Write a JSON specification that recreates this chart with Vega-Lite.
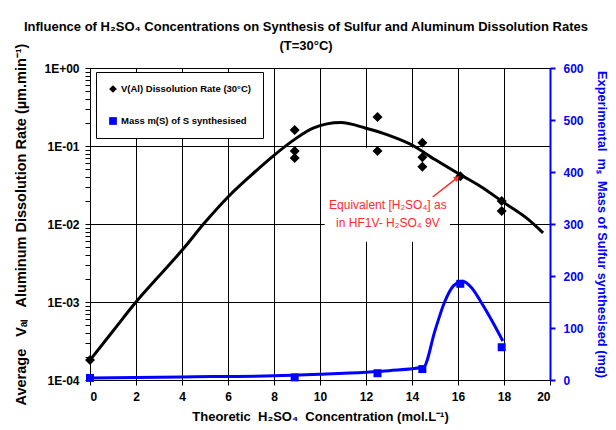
{
  "$schema": "https://vega.github.io/schema/vega-lite/v6.json",
  "width": 460,
  "height": 312,
  "autosize": {"type": "none"},
  "padding": {"left": 90, "top": 68, "right": 66, "bottom": 50},
  "background": "white",
  "config": {
    "font": "Liberation Sans",
    "view": {"stroke": "black", "strokeWidth": 1},
    "axis": {
      "labelFont": "Liberation Sans",
      "titleFont": "Liberation Sans",
      "labelFontWeight": "bold",
      "titleFontWeight": "bold",
      "labelFontSize": 12,
      "titleFontSize": 13,
      "domainColor": "black",
      "tickColor": "black",
      "labelColor": "black",
      "titleColor": "black",
      "labelOverlap": false
    }
  },
  "title": {
    "text": "Influence of H₂SO₄ Concentrations on Synthesis of Sulfur and Aluminum Dissolution Rates",
    "subtitle": "(T=30°C)",
    "font": "Liberation Sans",
    "subtitleFont": "Liberation Sans",
    "fontSize": 13,
    "fontWeight": "bold",
    "subtitleFontSize": 13,
    "subtitleFontWeight": "bold",
    "color": "black",
    "subtitleColor": "black",
    "anchor": "middle",
    "frame": "group",
    "dx": -14,
    "dy": 21,
    "offset": 11,
    "subtitlePadding": 6
  },
  "datasets": {
    "fit": [
      {"x": 0, "v": 0.00018}, {"x": 1, "v": 0.000425}, {"x": 2, "v": 0.001},
      {"x": 3, "v": 0.00215}, {"x": 4, "v": 0.0046}, {"x": 5, "v": 0.0105},
      {"x": 6, "v": 0.0222}, {"x": 7, "v": 0.042}, {"x": 8, "v": 0.076},
      {"x": 8.85, "v": 0.119}, {"x": 9.7, "v": 0.17}, {"x": 10.9, "v": 0.2},
      {"x": 12, "v": 0.169}, {"x": 13, "v": 0.137}, {"x": 14, "v": 0.103},
      {"x": 15, "v": 0.067}, {"x": 16, "v": 0.0446}, {"x": 17, "v": 0.03},
      {"x": 18, "v": 0.0188}, {"x": 19, "v": 0.0118}, {"x": 19.7, "v": 0.0077}
    ],
    "rate": [
      {"x": 0, "v": 0.00018, "series": "V(Al) Dissolution Rate (30°C)"},
      {"x": 8.9, "v": 0.16, "series": "V(Al) Dissolution Rate (30°C)"},
      {"x": 8.9, "v": 0.086, "series": "V(Al) Dissolution Rate (30°C)"},
      {"x": 8.9, "v": 0.07, "series": "V(Al) Dissolution Rate (30°C)"},
      {"x": 12.5, "v": 0.235, "series": "V(Al) Dissolution Rate (30°C)"},
      {"x": 12.5, "v": 0.086, "series": "V(Al) Dissolution Rate (30°C)"},
      {"x": 14.45, "v": 0.11, "series": "V(Al) Dissolution Rate (30°C)"},
      {"x": 14.45, "v": 0.072, "series": "V(Al) Dissolution Rate (30°C)"},
      {"x": 14.45, "v": 0.054, "series": "V(Al) Dissolution Rate (30°C)"},
      {"x": 16.1, "v": 0.041, "series": "V(Al) Dissolution Rate (30°C)"},
      {"x": 17.9, "v": 0.0197, "series": "V(Al) Dissolution Rate (30°C)"},
      {"x": 17.9, "v": 0.0147, "series": "V(Al) Dissolution Rate (30°C)"}
    ],
    "massfit": [
      {"x": 0, "m": 4}, {"x": 4, "m": 6}, {"x": 8, "m": 8}, {"x": 10, "m": 11},
      {"x": 12, "m": 15}, {"x": 13, "m": 18}, {"x": 14.5, "m": 25},
      {"x": 15.0, "m": 95}, {"x": 15.4, "m": 148}, {"x": 15.8, "m": 181},
      {"x": 16.2, "m": 190}, {"x": 16.6, "m": 177}, {"x": 17.0, "m": 150},
      {"x": 17.5, "m": 112}, {"x": 17.95, "m": 75}
    ],
    "mass": [
      {"x": 0, "m": 4, "series": "Mass m(S) of S synthesised"},
      {"x": 8.9, "m": 5, "series": "Mass m(S) of S synthesised"},
      {"x": 12.5, "m": 13, "series": "Mass m(S) of S synthesised"},
      {"x": 14.45, "m": 21, "series": "Mass m(S) of S synthesised"},
      {"x": 16.1, "m": 185, "series": "Mass m(S) of S synthesised"},
      {"x": 17.9, "m": 63, "series": "Mass m(S) of S synthesised"}
    ],
    "note": [
      {"x": 12.95, "v": 0.0175, "label": "Equivalent [H₂SO₄] as"},
      {"x": 12.95, "v": 0.0103, "label": "in HF1V- H₂SO₄ 9V"}
    ],
    "notebox": [
      {"x": 10.2, "x2": 15.65, "v": 0.0059, "v2": 0.095}
    ],
    "arrow": [
      {"x": 14.9, "v": 0.0222, "x2": 15.96, "v2": 0.039}
    ]
  },
  "layer": [
    {
      "layer": [
        {
          "data": {"name": "notebox"},
          "mark": {"type": "rect", "color": "white", "opacity": 1},
          "encoding": {
            "x": {
              "field": "x", "type": "quantitative",
              "scale": {"domain": [0, 20], "nice": false},
              "axis": {
                "values": [0,1,2,3,4,5,6,7,8,9,10,11,12,13,14,15,16,17,18,19,20],
                "labelExpr": "datum.value % 2 == 0 ? datum.label : ''",
                "grid": true,
                "gridColor": "black",
                "gridOpacity": {"condition": {"test": "datum.value % 2 == 0", "value": 1}, "value": 0},
                "tickSize": 5,
                "labelPadding": 6,
                "title": "Theoretic\u00a0\u00a0H₂SO₄\u00a0\u00a0Concentration (mol.L⁻¹)",
                "titlePadding": 8
              }
            },
            "x2": {"field": "x2"},
            "y": {
              "field": "v", "type": "quantitative",
              "scale": {"type": "log", "domain": [0.0001, 1], "nice": false},
              "axis": {
                "orient": "left",
                "values": [0.0001,0.0002,0.0003,0.0004,0.0005,0.0006,0.0007,0.0008,0.0009,0.001,0.002,0.003,0.004,0.005,0.006,0.007,0.008,0.009,0.01,0.02,0.03,0.04,0.05,0.06,0.07,0.08,0.09,0.1,0.2,0.3,0.4,0.5,0.6,0.7,0.8,0.9,1],
                "labelExpr": "abs(log(datum.value)/LN10 - round(log(datum.value)/LN10)) < 0.001 ? (round(log(datum.value)/LN10) == 0 ? '1E+00' : '1E-0' + abs(round(log(datum.value)/LN10))) : ''",
                "grid": true,
                "gridColor": "black",
                "gridOpacity": {"condition": {"test": "abs(log(datum.value)/LN10 - round(log(datum.value)/LN10)) < 0.001", "value": 1}, "value": 0},
                "tickSize": 5,
                "labelPadding": 6,
                "title": "Average\u00a0\u00a0\u00a0V\u2090\u2097\u00a0\u00a0\u00a0Aluminum Dissolution Rate (µm.min⁻¹)\u00a0\u00a0\u00a0\u00a0\u00a0\u00a0\u00a0\u00a0\u00a0\u00a0\u00a0\u00a0\u00a0\u00a0",
                "titleFontSize": 14.5,
                "titlePadding": 15
              }
            },
            "y2": {"field": "v2"}
          }
        },
        {
          "data": {"name": "fit"},
          "mark": {"type": "line", "color": "black", "strokeWidth": 3, "interpolate": "monotone"},
          "encoding": {
            "x": {"field": "x", "type": "quantitative"},
            "y": {"field": "v", "type": "quantitative"}
          }
        },
        {
          "data": {"name": "rate"},
          "mark": {"type": "point", "filled": true, "size": 100, "opacity": 1},
          "encoding": {
            "x": {"field": "x", "type": "quantitative"},
            "y": {"field": "v", "type": "quantitative"},
            "color": {
              "field": "series", "type": "nominal",
              "scale": {"domain": ["V(Al) Dissolution Rate (30°C)", "Mass m(S) of S synthesised"], "range": ["black", "blue"]},
              "legend": {
                "orient": "none", "legendX": 6, "legendY": 4, "title": null,
                "fillColor": "white", "strokeColor": "black", "padding": 12,
                "rowPadding": 22, "labelFontSize": 9.5, "labelFontWeight": "bold",
                "labelFont": "Liberation Sans", "symbolSize": 60, "labelOffset": 3,
                "encode": {"labels": {"update": {"fill": {"signal": "indexof(datum.value, 'Mass') === 0 ? 'blue' : 'black'"}}}}
              }
            },
            "shape": {
              "field": "series", "type": "nominal",
              "scale": {"domain": ["V(Al) Dissolution Rate (30°C)", "Mass m(S) of S synthesised"], "range": ["diamond", "square"]},
              "legend": {
                "orient": "none", "legendX": 6, "legendY": 4, "title": null,
                "fillColor": "white", "strokeColor": "black", "padding": 12,
                "rowPadding": 22, "labelFontSize": 9.5, "labelFontWeight": "bold",
                "labelFont": "Liberation Sans", "symbolSize": 60, "labelOffset": 3,
                "encode": {"labels": {"update": {"fill": {"signal": "indexof(datum.value, 'Mass') === 0 ? 'blue' : 'black'"}}}}
              }
            }
          }
        },
        {
          "data": {"name": "arrow"},
          "mark": {"type": "rule", "color": "#ff2a2a", "strokeWidth": 1.5},
          "encoding": {
            "x": {"field": "x", "type": "quantitative"},
            "y": {"field": "v", "type": "quantitative"},
            "x2": {"field": "x2"},
            "y2": {"field": "v2"}
          }
        },
        {
          "data": {"name": "arrow"},
          "mark": {"type": "point", "shape": "triangle-up", "filled": true, "color": "#ff2a2a", "size": 40, "angle": 52, "opacity": 1},
          "encoding": {
            "x": {"field": "x2", "type": "quantitative"},
            "y": {"field": "v2", "type": "quantitative"}
          }
        },
        {
          "data": {"name": "note"},
          "mark": {"type": "text", "color": "#ff2a2a", "fontSize": 12, "font": "Liberation Sans", "align": "center", "baseline": "middle"},
          "encoding": {
            "x": {"field": "x", "type": "quantitative"},
            "y": {"field": "v", "type": "quantitative"},
            "text": {"field": "label"}
          }
        }
      ]
    },
    {
      "layer": [
        {
          "data": {"name": "massfit"},
          "mark": {"type": "line", "color": "blue", "strokeWidth": 3, "interpolate": "monotone"},
          "encoding": {
            "x": {"field": "x", "type": "quantitative"},
            "y": {
              "field": "m", "type": "quantitative",
              "scale": {"domain": [0, 600], "nice": false},
              "axis": {
                "orient": "right",
                "values": [0,50,100,150,200,250,300,350,400,450,500,550,600],
                "labelExpr": "datum.value % 100 == 0 ? datum.label : ''",
                "grid": false,
                "domainColor": "blue",
                "domainWidth": 2,
                "tickColor": "blue",
                "tickWidth": 2,
                "tickSize": 5,
                "labelColor": "blue",
                "labelPadding": 8,
                "titleColor": "blue",
                "titleFontSize": 12.8,
                "title": "Experimental\u00a0\u00a0m\u209b\u00a0\u00a0Mass of Sulfur synthesised (mg)",
                "titlePadding": 11
              }
            }
          }
        },
        {
          "data": {"name": "mass"},
          "mark": {"type": "point", "filled": true, "size": 64, "opacity": 1},
          "encoding": {
            "x": {"field": "x", "type": "quantitative"},
            "y": {"field": "m", "type": "quantitative"},
            "color": {"field": "series", "type": "nominal"},
            "shape": {"field": "series", "type": "nominal"}
          }
        }
      ]
    }
  ],
  "resolve": {"scale": {"y": "independent"}}
}
